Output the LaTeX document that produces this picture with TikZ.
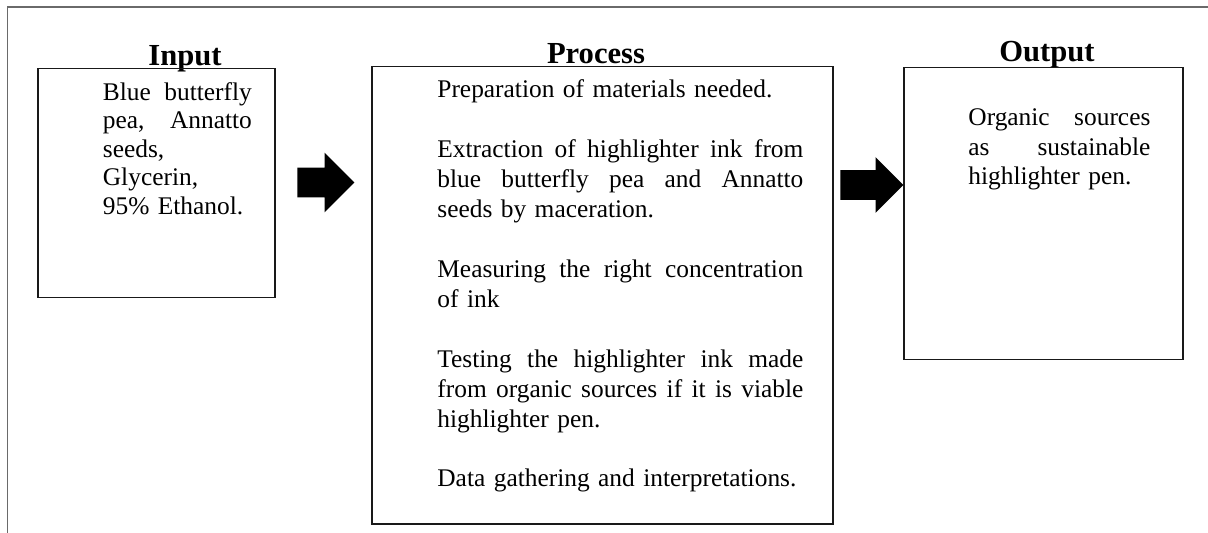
\documentclass[tikz,border=0pt]{standalone}
\usepackage{fontspec}
\setmainfont{Liberation Serif}
\usepackage{tikz}
\usetikzlibrary{shapes.arrows,positioning}

\definecolor{framegray}{HTML}{6A6A6A}
\hyphenpenalty=10000

\begin{document}
\begin{tikzpicture}[x=0.5pt, y=-0.5pt,
    ipobox/.style={draw=black!90, line width=0.75pt, rectangle, inner sep=0pt, anchor=north west},
    headlabel/.style={font=\fontsize{15.3pt}{18pt}\selectfont\bfseries, inner sep=0pt, anchor=base},
    boxtext/.style={inner sep=0pt, anchor=base west, align=left},
    blockarrow/.style={single arrow, fill=black, draw=none, inner sep=0pt, minimum width=0pt,
        inner ysep=7.25pt, single arrow head indent=0pt, anchor=tail}]
    \useasboundingbox (0,0) rectangle (1208,533);
    % page frame
    \draw[framegray, line width=0.75pt] (7.5,533) -- (7.5,7) -- (1208,7);

    % headings
    \node[headlabel] (inhead) at (185,65.5) {Input};
    \node[headlabel] (prochead) at (596,63.5) {Process};
    \node[headlabel] (outhead) at (1047,62) {Output};

    % boxes
    \node[ipobox, minimum width=118.5pt, minimum height=114.5pt] (inbox) at (37,68) {};
    \node[ipobox, minimum width=230.5pt, minimum height=228.5pt] (procbox) at (371,66) {};
    \node[ipobox, minimum width=139.5pt, minimum height=146pt] (outbox) at (903,67) {};

    % box contents (\hfill spreads the justified lines)
    \node[boxtext, text width=74.5pt, font=\fontsize{12.7pt}{14.2pt}\selectfont] (intext) at (102.5,100.5)
        {Blue \hfill butterfly\\ pea, \hfill Annatto\\ seeds,\\ Glycerin,\\ 95\% Ethanol.};
    \node[boxtext, text width=183pt, font=\fontsize{12.7pt}{14.96pt}\selectfont] (proctext) at (437,98)
        {Preparation of materials needed.\\[14.96pt]
         Extraction \hfill of \hfill highlighter \hfill ink \hfill from\\
         blue \hfill butterfly \hfill pea \hfill and \hfill Annatto\\
         seeds by maceration.\\[14.96pt]
         Measuring \hfill the \hfill right \hfill concentration\\
         of ink\\[14.96pt]
         Testing \hfill the \hfill highlighter \hfill ink \hfill made\\
         from \hfill organic \hfill sources \hfill if \hfill it \hfill is \hfill viable\\
         highlighter pen.\\[14.96pt]
         Data gathering and interpretations.};
    \node[boxtext, text width=91pt, font=\fontsize{12.7pt}{14.75pt}\selectfont] (outtext) at (968,126)
        {Organic \hfill sources\\ as \hfill sustainable\\ highlighter pen.};

    % block arrows between the boxes
    \node[blockarrow, minimum height=28.5pt, single arrow head extend=7.5pt] (arrA) at (297,182.5) {};
    \node[blockarrow, minimum height=31.5pt, single arrow head extend=6.5pt] (arrB) at (840,185) {};
\end{tikzpicture}
\end{document}
